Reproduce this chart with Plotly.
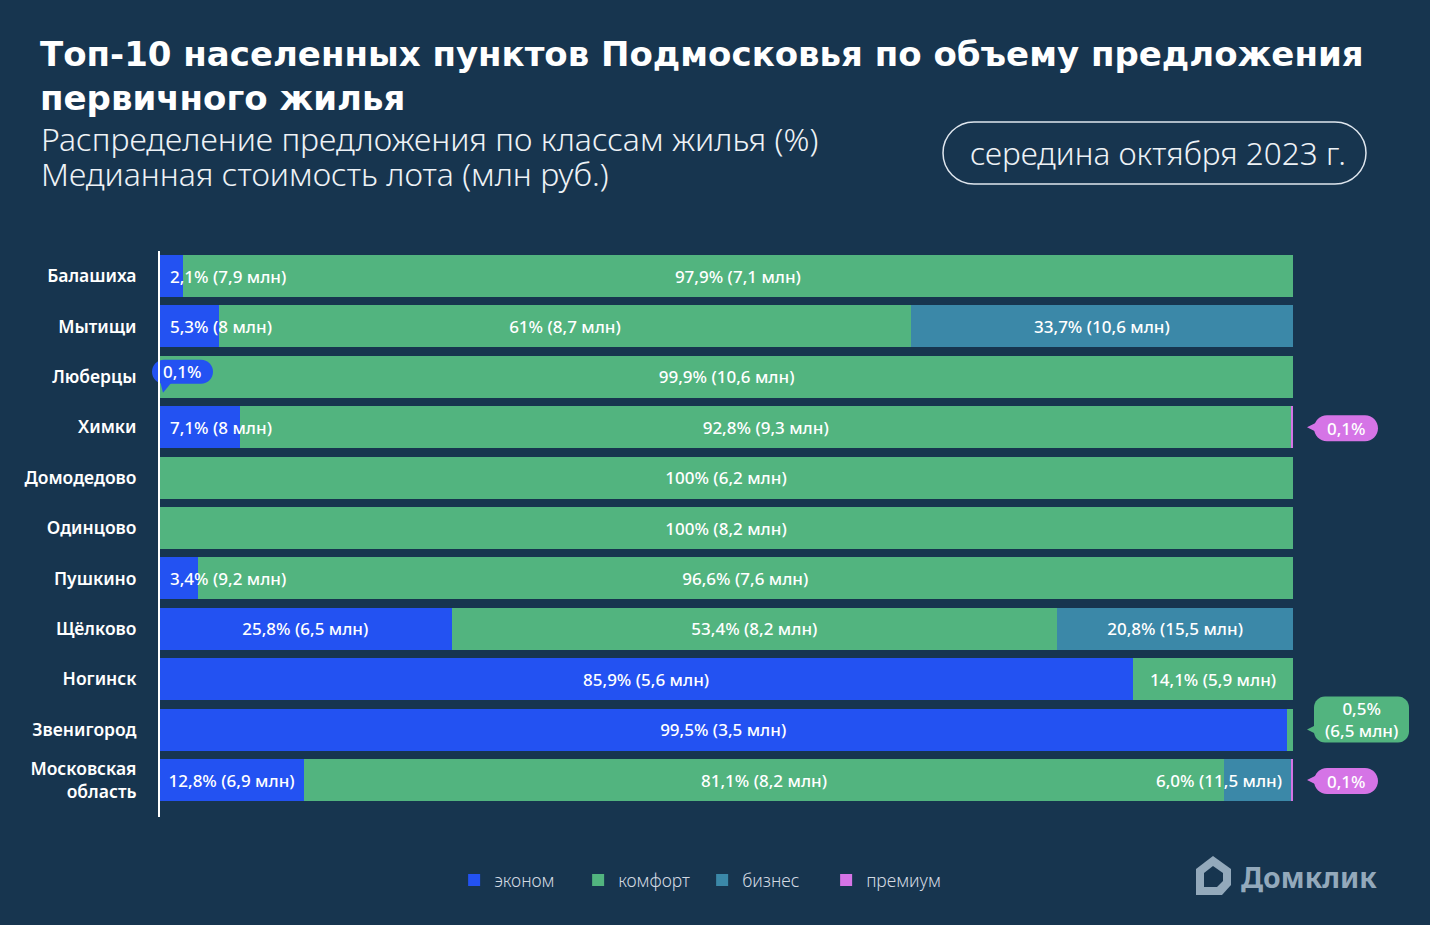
import plotly.graph_objects as go

# ---------------- data ----------------
categories = ["Балашиха", "Мытищи", "Люберцы", "Химки", "Домодедово", "Одинцово",
              "Пушкино", "Щёлково", "Ногинск", "Звенигород", "Московская<br>область"]
series_names = ["эконом", "комфорт", "бизнес", "премиум"]

econom_share = [2.1, 5.3, 0.1, 7.1, 0, 0, 3.4, 25.8, 85.9, 99.5, 12.8]
econom_price = [7.9, 8, None, 8, None, None, 9.2, 6.5, 5.6, 3.5, 6.9]
komfort_share = [97.9, 61, 99.9, 92.8, 100, 100, 96.6, 53.4, 14.1, 0.5, 81.1]
komfort_price = [7.1, 8.7, 10.6, 9.3, 6.2, 8.2, 7.6, 8.2, 5.9, 6.5, 8.2]
biznes_share = [0, 33.7, 0, 0, 0, 0, 0, 20.8, 0, 0, 6.0]
biznes_price = [None, 10.6, None, None, None, None, None, 15.5, None, None, 11.5]
premium_share = [0, 0, 0, 0.1, 0, 0, 0, 0, 0, 0, 0.1]
premium_price = [None] * 11

shares = [econom_share, komfort_share, biznes_share, premium_share]
prices = [econom_price, komfort_price, biznes_price, premium_price]

# ---------------- style ----------------
BG = "#17354f"
COLORS = ["#2352f2", "#52b47f", "#3b88a8", "#d574e6"]
FONT = "Noto Sans"
W, H = 1430, 925
L, R, T, B = 149, 10, 251, 108
PW, PH = W - L - R, H - T - B
BAR_X0, BAR_X1 = 159, 1293           # pixel span of 0..100 %
UNIT = (BAR_X1 - BAR_X0) / 100.0
X_RANGE = [-(BAR_X0 - L) / UNIT, 100 + (W - R - BAR_X1) / UNIT]


def px(x):
    return (x - L) / PW


def py(y):
    return (H - B - y) / PH


def fmt_share(v):
    if v >= 10 and v == int(v):
        s = str(int(v))
    else:
        s = f"{v:.1f}".replace(".", ",")
    return s + "%"


def fmt_label(v, p, sep=" "):
    s = fmt_share(v)
    if p is not None:
        s += sep + ("(" + f"{p:g}" + " млн)").replace(".", ",")
    return s


def rrect(x0, y0, x1, y1, r):
    # screen coords (y down) -> plotly pixel path (y up)
    k = 0.5523 * r
    pts = [
        ("M", [(x0 + r, y0)]),
        ("L", [(x1 - r, y0)]),
        ("C", [(x1 - r + k, y0), (x1, y0 + r - k), (x1, y0 + r)]),
        ("L", [(x1, y1 - r)]),
        ("C", [(x1, y1 - r + k), (x1 - r + k, y1), (x1 - r, y1)]),
        ("L", [(x0 + r, y1)]),
        ("C", [(x0 + r - k, y1), (x0, y1 - r + k), (x0, y1 - r)]),
        ("L", [(x0, y0 + r)]),
        ("C", [(x0, y0 + r - k), (x0 + r - k, y0), (x0 + r, y0)]),
    ]
    out = ""
    for cmd, ps in pts:
        out += cmd + " ".join(f"{a:.2f},{-b:.2f}" for a, b in ps) + " "
    return out + "Z"


def poly(points):
    return "M" + " L".join(f"{a:.2f},{-b:.2f}" for a, b in points) + " Z"


fig = go.Figure()
annotations = []
shapes = []
LBL_FONT = dict(color="white", size=17, family=FONT, weight=500)

TEXT_PX = 9.0  # approx px per char of bar label
for si, name in enumerate(series_names):
    texts = []
    for ci, cat in enumerate(categories):
        v = shares[si][ci]
        p = prices[si][ci]
        start = sum(shares[k][ci] for k in range(si))
        label = fmt_label(v, p) if v > 0 else ""
        seg_px = v * UNIT
        if v == 0:
            texts.append("")
        elif v < 1:
            texts.append("")
            col = COLORS[si]
            if start == 0:
                # bubble above-left, tail pointing down into the bar
                shapes.append(dict(type="path", xref="x", yref="y", xsizemode="pixel", ysizemode="pixel",
                                   xanchor=0, yanchor=cat, path=rrect(-7, -17, 54, 7, 12),
                                   fillcolor=col, line=dict(width=0), layer="above"))
                shapes.append(dict(type="path", xref="x", yref="y", xsizemode="pixel", ysizemode="pixel",
                                   xanchor=0, yanchor=cat, path=poly([(1, 4), (14, 4), (4, 16)]),
                                   fillcolor=col, line=dict(width=0), layer="above"))
                annotations.append(dict(x=0, y=cat, xref="x", yref="y", text=fmt_share(v),
                                        showarrow=False, xanchor="center", yanchor="middle",
                                        xshift=23, yshift=5, font=LBL_FONT))
            else:
                two = p is not None
                body = (21, -33, 116, 13, 11) if two else (21, -12, 85, 14, 13)
                shapes.append(dict(type="path", xref="x", yref="y", xsizemode="pixel", ysizemode="pixel",
                                   xanchor=100, yanchor=cat, path=rrect(*body),
                                   fillcolor=col, line=dict(width=0), layer="above"))
                shapes.append(dict(type="path", xref="x", yref="y", xsizemode="pixel", ysizemode="pixel",
                                   xanchor=100, yanchor=cat, path=poly([(26, -6), (26, 6), (14, 0)]),
                                   fillcolor=col, line=dict(width=0), layer="above"))
                annotations.append(dict(x=100, y=cat, xref="x", yref="y",
                                        text=fmt_label(v, p, "<br>") if two else fmt_share(v),
                                        showarrow=False, xanchor="center", yanchor="middle",
                                        xshift=(body[0] + body[2]) / 2, yshift=-(body[1] + body[3]) / 2,
                                        font=LBL_FONT))
        elif len(label) * TEXT_PX + 8 > seg_px:
            texts.append("")
            if start == 0:
                annotations.append(dict(x=0, y=cat, xref="x", yref="y", text=label, showarrow=False,
                                        xanchor="left", yanchor="middle", xshift=9, font=LBL_FONT))
            else:
                annotations.append(dict(x=start + v, y=cat, xref="x", yref="y", text=label, showarrow=False,
                                        xanchor="right", yanchor="middle", xshift=-8, font=LBL_FONT))
        else:
            texts.append(label)
    fig.add_trace(go.Bar(
        y=categories, x=shares[si], name=name, orientation="h",
        marker=dict(color=COLORS[si], line=dict(width=0)),
        text=texts, textposition="inside", insidetextanchor="middle", textangle=0,
        textfont=LBL_FONT, constraintext="none",
        hoverinfo="skip", width=0.833,
    ))

# y axis line at 0 %
shapes.append(dict(type="line", xref="x", yref="paper", x0=0, x1=0, y0=0, y1=1,
                   line=dict(color="white", width=2), layer="above"))

# ---------------- titles & decorations ----------------
annotations += [
    dict(xref="paper", yref="paper", x=px(38), y=py(32), xanchor="left", yanchor="top", align="left",
         text="<b>Топ-10 населенных пунктов Подмосковья по объему предложения<br>первичного жилья</b>",
         showarrow=False, font=dict(color="white", size=34, family="DejaVu Sans")),
    dict(xref="paper", yref="paper", x=px(39), y=py(139), xanchor="left", yanchor="middle",
         text="Распределение предложения по классам жилья (%)", showarrow=False,
         font=dict(color="#eef2f6", size=32, family=FONT, weight=300)),
    dict(xref="paper", yref="paper", x=px(39), y=py(174), xanchor="left", yanchor="middle",
         text="Медианная стоимость лота (млн руб.)", showarrow=False,
         font=dict(color="#eef2f6", size=32, family=FONT, weight=300)),
    dict(xref="paper", yref="paper", x=px(1158), y=py(152), xanchor="center", yanchor="middle",
         text="середина октября 2023 г.", showarrow=False,
         font=dict(color="#eef2f6", size=31.5, family=FONT, weight=300)),
    dict(xref="paper", yref="paper", x=px(1239), y=py(877), xanchor="left", yanchor="middle",
         text="Домклик", showarrow=False,
         font=dict(color="#93a9bb", size=28.5, family=FONT, weight=700)),
]

# date pill
shapes.append(dict(type="path", xref="paper", yref="paper", xsizemode="pixel", ysizemode="pixel",
                   xanchor=px(943), yanchor=py(122), path=rrect(0, 0, 423, 62, 31),
                   fillcolor="rgba(0,0,0,0)", line=dict(color="#dfe6ee", width=1.5)))
# logo icon
shapes.append(dict(type="path", xref="paper", yref="paper", xsizemode="pixel", ysizemode="pixel",
                   xanchor=px(1195), yanchor=py(856),
                   path=poly([(1, 13), (18, 0), (36, 13), (36, 29), (27, 39), (1, 39)]),
                   fillcolor="#93a9bb", line=dict(width=0)))
shapes.append(dict(type="path", xref="paper", yref="paper", xsizemode="pixel", ysizemode="pixel",
                   xanchor=px(1195), yanchor=py(856),
                   path=poly([(9, 17), (18, 10), (28, 17), (28, 25), (22, 31), (9, 31)]),
                   fillcolor=BG, line=dict(width=0)))

fig.update_layout(
    width=W, height=H,
    margin=dict(l=L, r=R, t=T, b=B),
    paper_bgcolor=BG, plot_bgcolor=BG,
    barmode="stack",
    font=dict(family=FONT, color="white"),
    showlegend=True,
    legend=dict(orientation="h", xref="container", yref="container", x=0.491, y=1 - 880 / 925,
                xanchor="center", yanchor="middle", traceorder="normal", entrywidth=79,
                font=dict(color="#d3dae2", size=17.5, family=FONT, weight=300), bgcolor="rgba(0,0,0,0)",
                itemclick=False),
    xaxis=dict(range=X_RANGE, showgrid=False, zeroline=False, showticklabels=False, showline=False,
               fixedrange=True),
    yaxis=dict(type="category", categoryorder="array", categoryarray=categories,
               range=[10.734, -0.496], autorange=False, showgrid=False, zeroline=False,
               showline=False, ticks="outside", ticklen=8, tickcolor="rgba(0,0,0,0)",
               tickfont=dict(color="white", size=17.5, family=FONT, weight=600), fixedrange=True),
    annotations=annotations,
    shapes=shapes,
)

fig.write_html("out.html")
